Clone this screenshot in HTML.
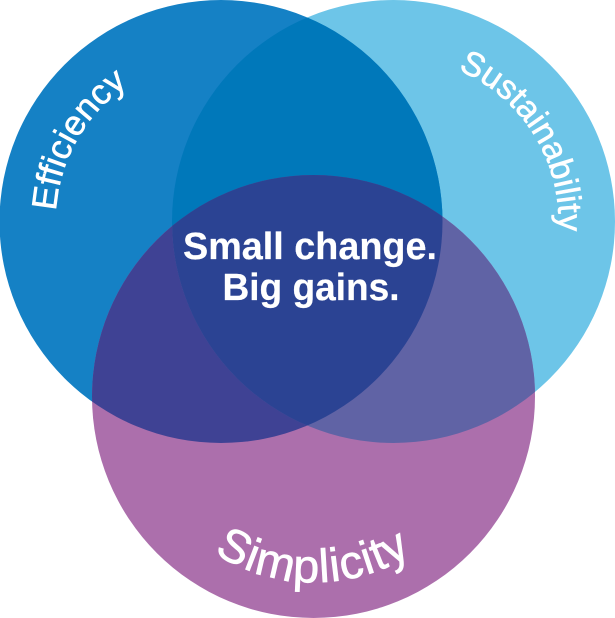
<!DOCTYPE html>
<html>
<head>
<meta charset="utf-8">
<style>
html,body{margin:0;padding:0;background:#fff;width:615px;height:618px;overflow:hidden}
svg{display:block}
text{font-family:"Liberation Sans",sans-serif;fill:#fff;stroke:#fff}
</style>
</head>
<body>
<svg width="615" height="618" viewBox="0 0 615 618" xmlns="http://www.w3.org/2000/svg">
<defs>
<clipPath id="cl"><circle cx="221" cy="221.5" r="221.5"/></clipPath>
<clipPath id="cr"><circle cx="393.5" cy="221.5" r="221.5"/></clipPath>
<clipPath id="cb"><circle cx="313.5" cy="396.5" r="221.5"/></clipPath>
<path id="pe" d="M56 211 A165 165 0 0 1 131 83" fill="none"/>
<path id="ps" d="M458 70 A165 165 0 0 1 558 236" fill="none"/>
<path id="pb" d="M214 553 A185 185 0 0 0 414 553" fill="none"/>
</defs>
<circle cx="393.5" cy="221.5" r="221.5" fill="#6dc5e8"/>
<circle cx="221" cy="221.5" r="221.5" fill="#1581c5"/>
<circle cx="313.5" cy="396.5" r="221.5" fill="#ac6fac"/>
<g clip-path="url(#cl)"><circle cx="393.5" cy="221.5" r="221.5" fill="#0078ba"/></g>
<g clip-path="url(#cl)"><circle cx="313.5" cy="396.5" r="221.5" fill="#3f4294"/></g>
<g clip-path="url(#cr)"><circle cx="313.5" cy="396.5" r="221.5" fill="#6063a5"/></g>
<g clip-path="url(#cl)"><g clip-path="url(#cr)"><circle cx="313.5" cy="396.5" r="221.5" fill="#2b4393"/></g></g>
<text font-size="35" stroke-width="0.6"><textPath href="#pe" textLength="150" lengthAdjust="spacing">Efficiency</textPath></text>
<text font-size="34" stroke-width="0.6"><textPath href="#ps" textLength="202" lengthAdjust="spacing">Sustainability</textPath></text>
<text font-size="47" stroke-width="0.7"><textPath href="#pb" textLength="208" lengthAdjust="spacing">Simplicity</textPath></text>
<text x="310" y="259" font-size="38" font-weight="bold" stroke-width="0.2" text-anchor="middle" textLength="254" lengthAdjust="spacingAndGlyphs">Small change.</text>
<text x="311" y="300" font-size="38" font-weight="bold" stroke-width="0.2" text-anchor="middle" textLength="177" lengthAdjust="spacingAndGlyphs">Big gains.</text>
</svg>
</body>
</html>
